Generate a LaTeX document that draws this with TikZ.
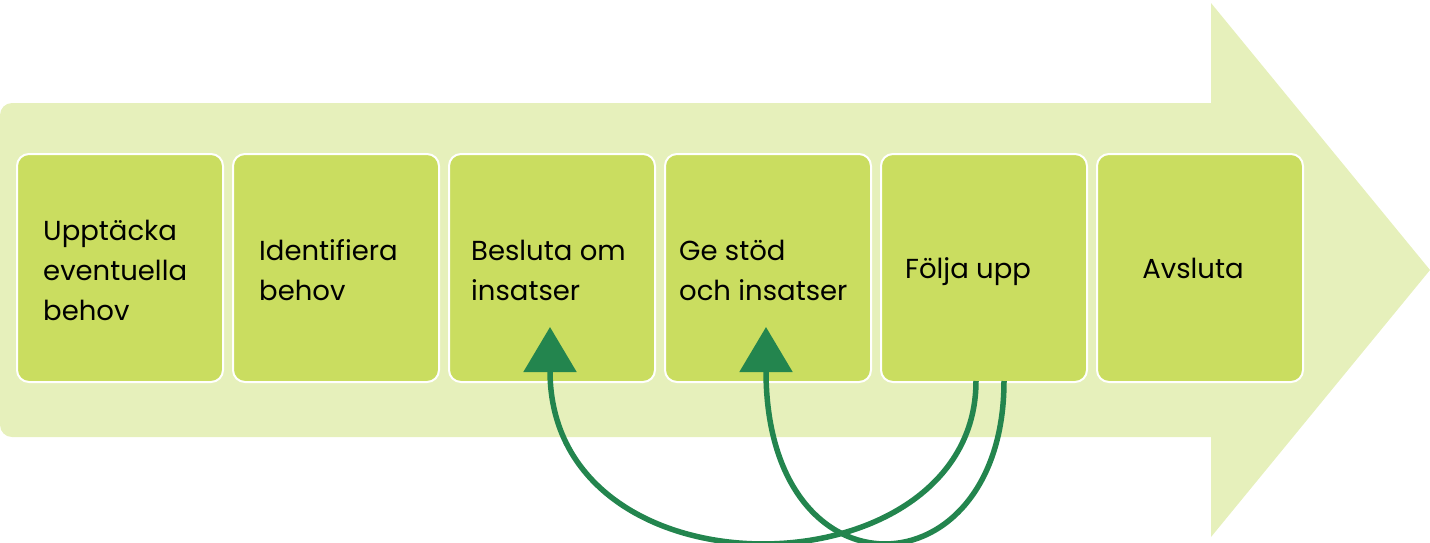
\documentclass[tikz,border=0pt]{standalone}
\usepackage{fontspec}
\setmainfont{Poppins}
\usetikzlibrary{arrows.meta}
\definecolor{bgarrow}{RGB}{230,240,187}
\definecolor{boxfill}{RGB}{202,221,96}
\definecolor{loopgreen}{RGB}{35,133,78}
\tikzset{
  stepbox/.style={draw=white, line width=2pt, fill=boxfill, rounded corners=12pt, minimum width=206pt, minimum height=228pt, inner sep=0pt, anchor=north west},
  steptext/.style={anchor=base west, align=left, inner sep=0pt, font=\fontsize{27.5}{40}\selectfont},
  loop/.style={draw=loopgreen, line width=5.5pt, -{Triangle[width=52pt 0 0,length=45pt 0 0]}}
}
\begin{document}
\begin{tikzpicture}[x=1pt,y=-1pt]
\useasboundingbox (0,0) rectangle (1430,542);
% big arrow
\fill[bgarrow, rounded corners=12pt] (1212,103) -- (0,103) -- (0,437) -- (1212,437);
\fill[bgarrow] (1211,103) -- (1211,3) -- (1430,270) -- (1211,537) -- (1211,437) -- cycle;
% boxes
\node[stepbox] (b1) at (16,153) {};
\node[stepbox] (b2) at (232,153) {};
\node[stepbox] (b3) at (448,153) {};
\node[stepbox] (b4) at (664,153) {};
\node[stepbox] (b5) at (880,153) {};
\node[stepbox] (b6) at (1096,153) {};
% texts (base anchor = last line)
\node[steptext] (t1) at (43,320) {Upptäcka\\eventuella\\behov};
\node[steptext] (t2) at (259,300) {Identifiera\\behov};
\node[steptext] (t3) at (471,300) {Besluta om\\insatser};
\node[steptext] (t4) at (679,300) {Ge stöd\\och insatser};
\node[steptext] (t5) at (905,278) {Följa upp};
\node[steptext, anchor=base] (t6) at (1193,278) {Avsluta};
% loops
\coordinate (s1) at (976,381);
\coordinate (e1) at (550,327);
\coordinate (s2) at (1004,381);
\coordinate (e2) at (766,327);
\draw[loop] (s1) .. controls (976,595) and (550,605) .. (e1);
\draw[loop] (s2) .. controls (1004,595) and (766,605) .. (e2);
\end{tikzpicture}
\end{document}
